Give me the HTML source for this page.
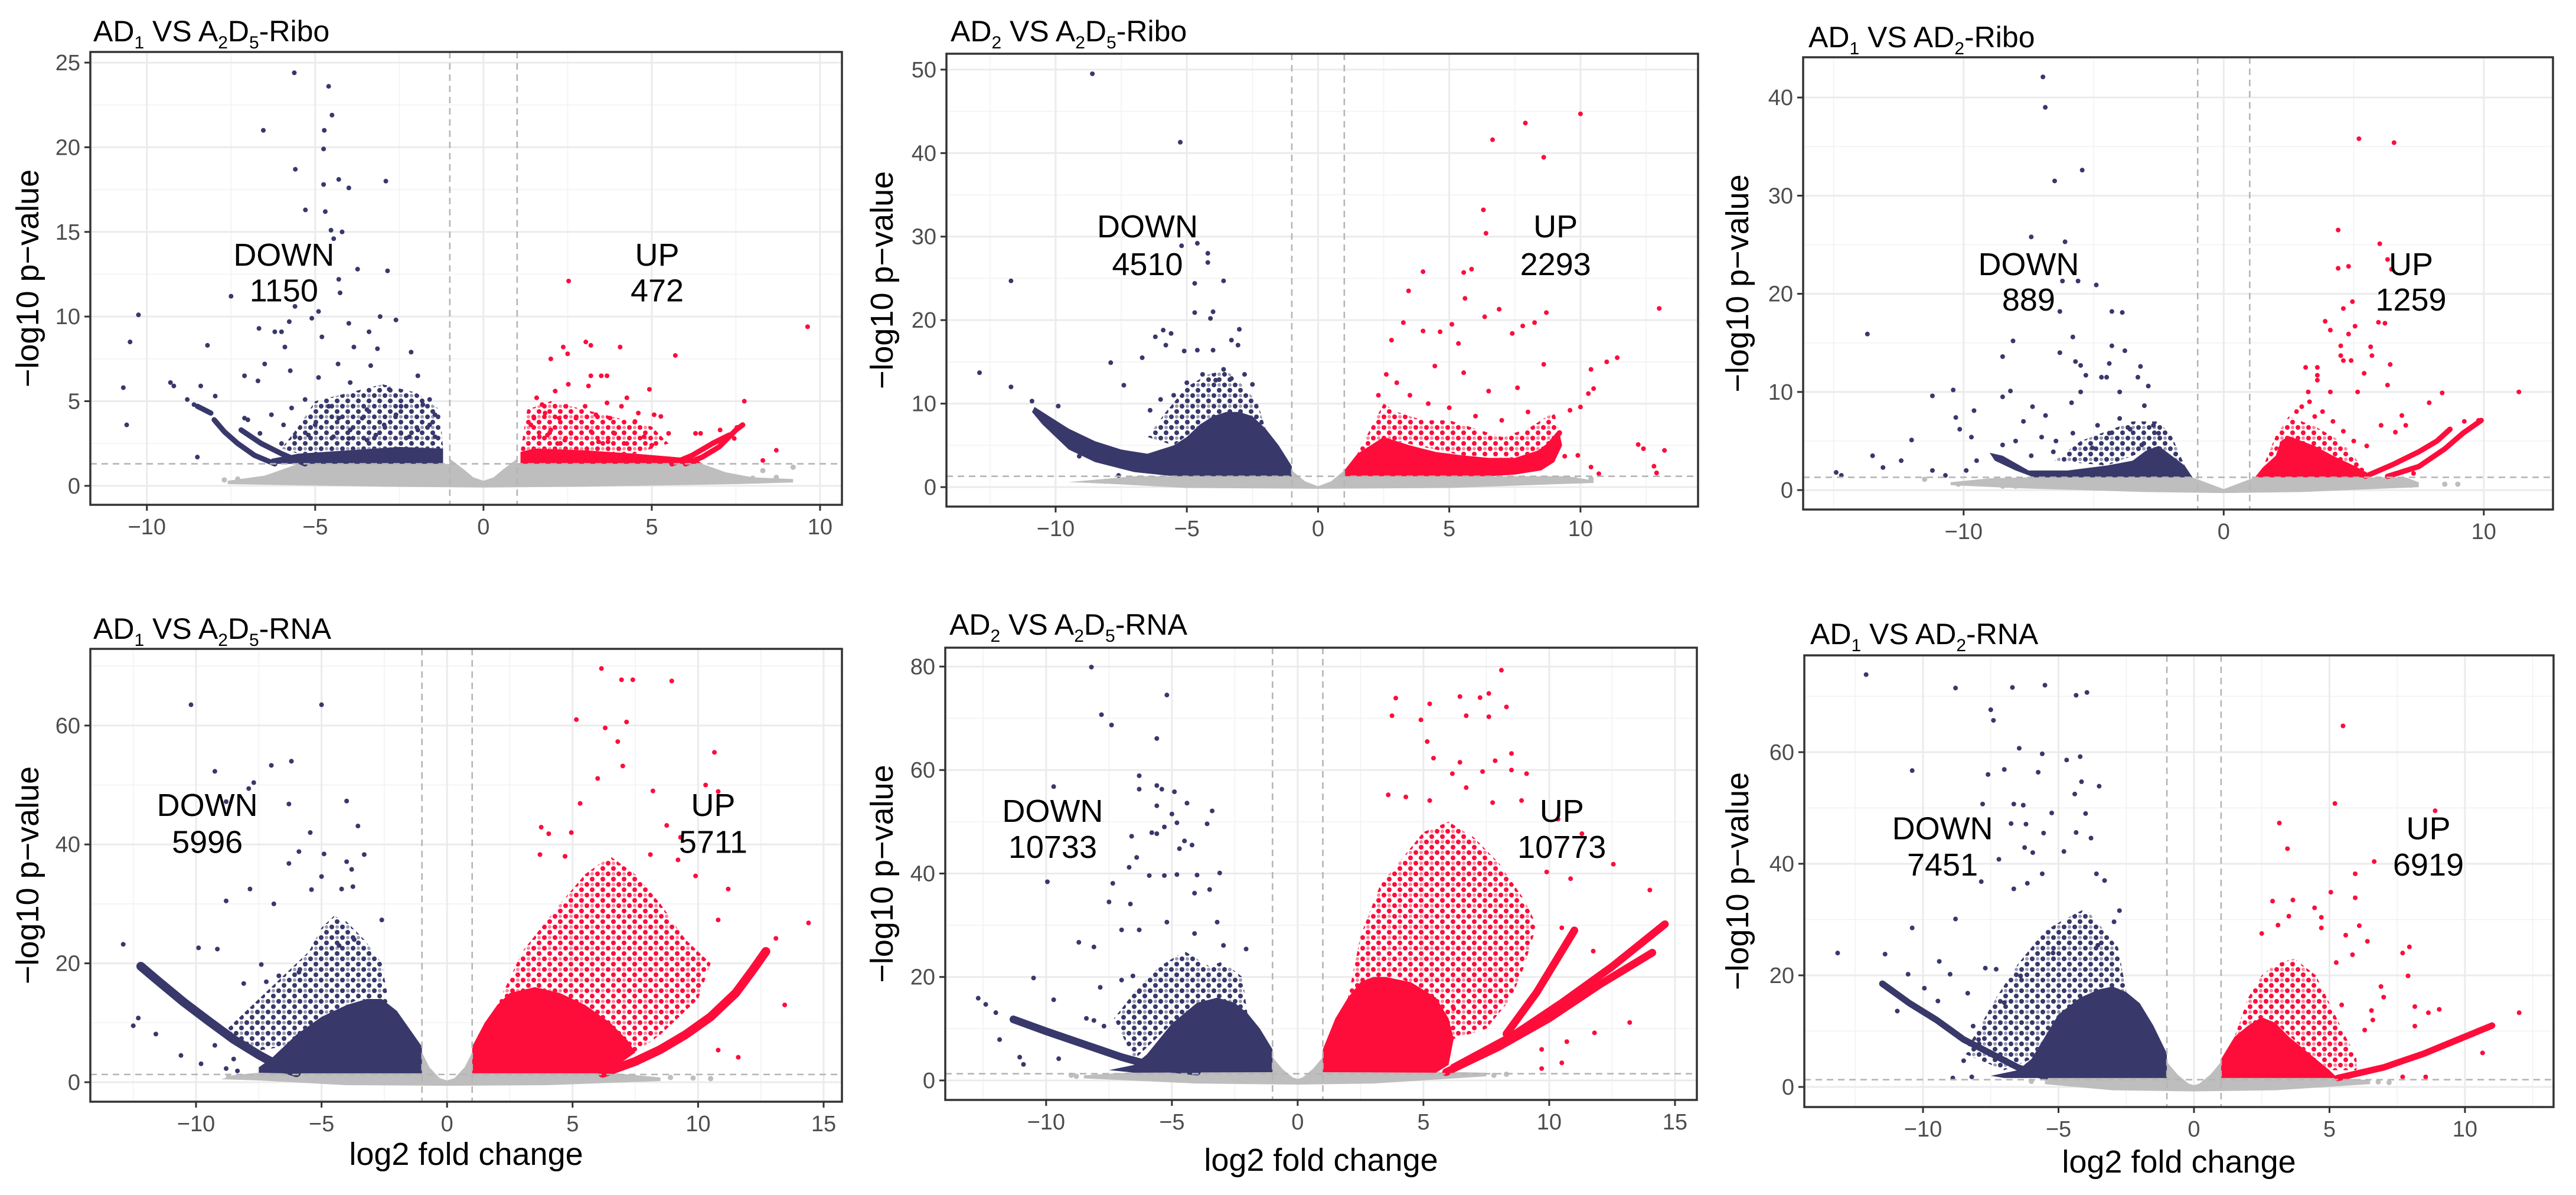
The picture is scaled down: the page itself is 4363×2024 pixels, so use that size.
<!DOCTYPE html>
<html><head><meta charset="utf-8"><title>Volcano plots</title>
<style>
html,body{margin:0;padding:0;background:#fff;}
svg{display:block;}
text{font-family:"Liberation Sans",Arial,sans-serif;}
</style></head>
<body>
<svg id="fig" width="4363" height="2024" viewBox="0 0 4363 2024" xmlns="http://www.w3.org/2000/svg">
<defs>
<pattern id="navyDots" width="18" height="18" patternUnits="userSpaceOnUse">
<circle cx="4" cy="4" r="4" fill="#38386b"/><circle cx="13" cy="13" r="4" fill="#38386b"/><circle cx="13" cy="4" r="3" fill="#38386b" fill-opacity="0.5"/>
</pattern>
<pattern id="redDots" width="18" height="18" patternUnits="userSpaceOnUse">
<circle cx="4" cy="4" r="4" fill="#fe0d3b"/><circle cx="13" cy="13" r="4" fill="#fe0d3b"/><circle cx="13" cy="4" r="3" fill="#fe0d3b" fill-opacity="0.5"/>
</pattern>
</defs>
<rect x="0" y="0" width="4363" height="2024" fill="#fff"/>
</svg>
<script>
// ---------------- data ----------------
const downCounts = [1150, 4510, 889, 5996, 10733, 7451];
const upCounts = [472, 2293, 1259, 5711, 10773, 6919];
const downLabelPos = [[-5.93,13.0,10.9],[-6.5,29.9,25.4],[-7.5,21.9,18.3],[-9.55,44.8,38.6],[-9.74,50.0,43.0],[-9.28,44.4,37.9]];
const upLabelPos = [[5.16,13.0,10.9],[9.05,29.9,25.4],[7.2,21.9,18.3],[10.6,44.8,38.6],[10.5,50.0,43.0],[8.65,44.4,37.9]];
const xTicksP = [[-10,-5,0,5,10],[-10,-5,0,5,10],[-10,0,10],[-10,-5,0,5,10,15],[-10,-5,0,5,10,15],[-10,-5,0,5,10]];
const yTicksP = [[0,5,10,15,20,25],[0,10,20,30,40,50],[0,10,20,30,40],[0,20,40,60],[0,20,40,60,80],[0,20,40,60]];
const pThreshold = 1.301;
const fcThreshold = 1;

// Panel 1
const p1Gray = [[-7.6,0.3],[-6.5,0.6],[-5.5,1.3],[-1,1.3],[-1,1.6],[-0.6,1.0],[-0.3,0.5],[0,0.3],[0.3,0.5],[0.6,1.0],[1,1.6],[1,1.3],[6.5,1.3],[7.2,0.8],[8,0.5],[9.2,0.4],[9.2,0.2],[7.5,0.1],[3,-0.05],[0,-0.1],[-3,-0.05],[-7.6,0.1]];
const p1GrayPts = [[-7.7,0.35],[-7.3,0.4],[-6.8,0.35],[-6.5,0.3],[-6.2,0.3],[-5.8,0.3],[-5.5,0.35],[7.0,0.3],[7.5,0.3],[8.0,0.45],[8.7,0.5],[9.2,1.1],[8.3,0.9]];
const p1DownBand = [[-6.3,1.3],[-1.2,1.3],[-1.2,2.2],[-2.5,2.3],[-4,2.1],[-5.5,1.9],[-6.3,1.6]];
const p1UpBand = [[1.1,1.3],[6.5,1.3],[6.3,1.6],[4.5,1.9],[3,2.1],[1.5,2.2],[1.1,2.0]];
const p1DownCloud = [[-1.2,2.2],[-1.3,4.5],[-2,5.5],[-3,6],[-4,5.5],[-5,5],[-5.5,3.5],[-6,2.2],[-5.5,1.9],[-4,2.1],[-2.5,2.3]];
const p1UpCloud = [[1.1,2.0],[1.3,4.5],[2,5],[3,4.5],[4,4],[5,3.5],[5.5,2.5],[4.5,1.9],[3,2.1],[1.5,2.2]];
const p1DownArms = [[[-6.2,1.3],[-6.8,1.8],[-7.3,2.5],[-7.7,3.2],[-8.0,3.9]],[[-5.3,1.3],[-6.0,1.9],[-6.6,2.5],[-7.2,3.3]],[[-8.5,4.7],[-8.1,4.3]]];
const p1UpArms = [[[6.0,1.3],[6.5,1.7],[7.0,2.3],[7.5,3.3],[7.7,3.6]],[[5.6,1.3],[6.2,1.8],[6.8,2.5],[7.3,3.0]]];
const p1DownPts = [[-5.62,24.4],[-4.6,23.6],[-4.5,21.9],[-6.54,21.0],[-4.73,21],[-4.75,19.9],[-5.59,18.7],[-4.3,18.1],[-2.9,18.0],[-4.0,17.6],[-4.75,17.8],[-5.29,16.3],[-4.7,16.2],[-4.53,15.1],[-4.2,15.0],[-4.45,14.6],[-3.74,12.8],[-2.85,12.7],[-4.3,12.2],[-4.26,11.4],[-7.5,11.2],[-5.6,10.6],[-4.9,10.3],[-5.1,9.9],[-10.25,10.1],[-3.07,10.0],[-2.6,9.8],[-4.0,9.6],[-5.77,9.7],[-6.67,9.3],[-6.2,9.1],[-6.0,9.1],[-3.4,9.1],[-4.8,8.8],[-10.5,8.5],[-8.2,8.3],[-5.9,8.2],[-3.15,8.1],[-2.15,7.9],[-3.85,8.2],[-6.5,7.2],[-5.74,6.8],[-3.35,7.1],[-4.32,7.2],[-7.1,6.5],[-9.3,6.1],[-6.7,6.2],[-10.7,5.8],[-8.4,5.9],[-4.9,6.4],[-1.95,6.5],[-3.96,6.1],[-2.8,5.7],[-10.6,3.6],[-8.5,1.7],[-8.8,5.1],[-7.97,5.3],[-5.3,5.1],[-1.6,5.1],[-5.7,4.6],[-4.6,4.7],[-3.46,4.5],[-2.45,4.7],[-6.3,4.2],[-4.3,4.0],[-1.44,4.2],[-7.1,4.0],[-5.94,3.6],[-5.0,3.6],[-3.96,3.3],[-2.95,3.6],[-1.95,3.3],[-6.64,3.1],[-5.6,2.9],[-4.46,2.9],[-3.46,2.7],[-2.45,3.1],[-1.44,2.9],[-9.2,5.9],[-8.6,4.8],[-7.0,3.9],[-5.2,3.0],[-3.2,3.0],[-2.2,2.9],[-1.6,3.6],[-4.0,2.8],[-6.0,2.5],[-3.6,4.0],[-2.6,4.2],[-1.8,4.8]];
const p1UpPts = [[2.53,12.1],[9.63,9.4],[3.04,8.5],[2.37,8.2],[3.19,8.3],[4.06,8.2],[2.5,7.8],[2.0,7.5],[5.7,7.7],[3.19,6.5],[3.67,6.5],[3.5,6.5],[2.52,6.0],[4.93,5.7],[2.13,5.6],[3.12,5.9],[4.26,5.2],[7.75,5.0],[1.74,4.8],[1.58,5.2],[2.45,4.7],[3.02,4.7],[3.67,4.9],[4.1,4.7],[1.83,4.3],[4.6,4.3],[5.07,4.2],[5.27,4.1],[1.5,4.0],[2.25,4.0],[2.75,4.0],[3.34,4.2],[3.76,4.0],[4.5,3.8],[5.5,3.1],[1.41,3.6],[2.0,3.3],[2.6,3.1],[3.2,3.2],[3.9,3.1],[4.77,2.9],[6.3,3.1],[6.45,3.1],[7.03,3.3],[7.45,2.8],[7.53,3.45],[8.7,2.1],[8.3,1.5],[1.66,2.9],[2.42,2.7],[3.42,2.6],[4.26,2.5],[1.9,3.0],[2.2,2.5],[3.7,2.6],[5.0,2.4]];

// Panel 2
const p2Gray = [[-9.5,0.6],[-7,1.3],[-1.1,1.3],[-1.0,2.0],[-0.5,0.7],[0,0.1],[0.5,0.7],[1.0,2.0],[1.1,1.3],[9.5,1.3],[10.5,0.8],[10.5,0.5],[5,-0.1],[0,-0.2],[-5,-0.1],[-8,0.4]];
const p2GrayPts = [[-8.1,0.7],[-6.5,0.5],[-5.6,0.4],[-5.2,0.5],[9.8,0.9],[10.4,1.0]];
const p2DownBand = [[-10.8,9.6],[-9.5,7],[-8.5,5.5],[-7.5,4.5],[-6.5,4],[-5.5,5.0],[-5,6],[-4.5,7.5],[-4,8.5],[-3.5,9],[-3,9],[-2.5,8.5],[-2,7],[-1.5,5],[-1.0,2.5],[-1.0,1.3],[-5.5,1.3],[-7,1.8],[-8.5,3],[-9.5,4.5],[-10.5,7.5],[-10.9,9]];
const p2UpBand = [[1.0,1.3],[1.0,2.0],[1.5,4.0],[2,5],[2.5,6],[3,5.5],[3.5,5],[4.5,4.2],[5.5,3.8],[6.5,3.5],[7.5,3.5],[8.5,4.5],[9.2,6.5],[9.3,5],[9,3],[8.5,2],[7.5,1.5],[6.5,1.3]];
const p2DownCloud = [[-2,7],[-2.3,10],[-2.8,12],[-3.5,14],[-4.2,13.5],[-5,12],[-5.8,9],[-6.5,6],[-5.5,5],[-4,8.5],[-3,9]];
const p2UpCloud = [[1.5,4],[2,7],[2.5,10],[3,9],[4,8],[5,8],[6,7],[7,6],[8,7],[9,9],[9.2,6.5],[8.5,4.5],[7.5,3.5],[5.5,3.8],[3,5.5],[2,5]];
const p2DownArms = [];
const p2UpArms = [[[8.2,3.5],[8.8,5],[9.2,6.5]]];
const p2DownPts = [[-8.6,49.5],[-5.25,41.3],[-4.6,29.2],[-5.2,28.9],[-4.2,28.0],[-4.2,26.9],[-11.7,24.7],[-3.6,24.7],[-4.7,24.4],[-4.7,20.9],[-4.0,21.0],[-4.1,20.2],[-5.9,18.8],[-5.6,18.4],[-3.0,18.9],[-3.05,17.0],[-3.3,17.6],[-6.2,18.0],[-5.8,17.0],[-12.9,13.7],[-11.7,12.0],[-7.9,14.9],[-6.7,15.5],[-5.1,16.3],[-4.6,16.4],[-4.0,16.4],[-7.4,12.2],[-10.9,10.3],[-9.9,9.7],[-9.1,3.7],[-7.6,1.4],[-6.4,9.2],[-5.5,11.0],[-3.6,14.1],[-2.5,12.3],[-4.4,13.5],[-3.9,12.8],[-5.0,12.5],[-6.0,10.5],[-2.8,13.5],[-3.3,13.0]];
const p2UpPts = [[10.0,44.7],[7.9,43.6],[6.65,41.6],[8.6,39.5],[6.3,33.2],[6.4,30.4],[4.0,25.8],[5.55,25.7],[5.85,26.1],[3.45,23.5],[5.6,22.6],[6.9,21.3],[13.0,21.4],[8.7,20.9],[6.35,20.4],[8.25,19.7],[7.8,19.3],[3.25,19.7],[5.1,19.5],[7.4,18.4],[4.0,18.7],[4.65,18.6],[2.8,17.6],[5.35,17.2],[11.4,15.5],[11.0,15.0],[10.4,14.1],[8.6,14.7],[4.45,14.5],[5.55,13.7],[10.5,11.8],[10.3,11.2],[7.6,11.9],[10.0,9.6],[9.6,9.2],[12.2,5.1],[12.4,4.6],[13.2,4.4],[12.9,1.7],[12.8,2.5],[10.7,1.6],[10.4,2.4],[9.4,3.7],[9.9,3.8],[2.6,13.5],[3.0,12.5],[3.5,11.0],[4.2,10.0],[5.0,9.5],[6.0,8.5],[7.0,8.0],[8.0,9.0],[2.3,11.0],[6.5,11.5]];

// Panel 3
const p3Gray = [[-10.5,0.8],[-9,1.2],[-7.5,1.3],[-1.2,1.3],[-0.5,0.6],[0,0.1],[0.5,0.6],[1.2,1.3],[7,1.3],[7.5,0.8],[7.5,0.3],[3,-0.2],[0,-0.3],[-3,-0.2],[-8,0.2],[-10.5,0.5]];
const p3GrayPts = [[-10.2,0.6],[-9.5,0.7],[-8.5,0.4],[-8,0.4],[7.2,0.5],[8.5,0.6],[9.0,0.6],[-11.5,1.1]];
const p3DownBand = [[-1.2,1.3],[-1.5,2.5],[-2.0,3.5],[-2.5,4.5],[-3,4],[-3.5,3],[-4.5,2.5],[-6,2],[-7.5,2],[-8.5,3.5],[-9,3.8],[-8.8,3],[-8,2],[-7.3,1.3]];
const p3UpBand = [[1.2,1.3],[1.5,2.3],[2,3.5],[2.2,5],[2.5,5.5],[3,5],[3.5,4.5],[4.2,3.5],[5,2.5],[5.5,1.8],[5.6,1.3]];
const p3DownCloud = [[-1.5,2.5],[-2,5.5],[-2.5,7],[-3.5,7],[-4.5,6],[-5.5,5],[-6.5,3],[-4.5,2.5],[-3,4]];
const p3UpCloud = [[1.5,2.3],[2,5.5],[2.5,7.5],[3,7],[3.5,6.5],[4.5,5],[5,3.5],[5.5,1.8],[4.2,3.5],[2.5,5.5]];
const p3DownArms = [];
const p3UpArms = [[[5.45,1.4],[6.5,2.6],[7.5,3.9],[8.2,5.0],[8.7,6.2]],[[6.3,1.4],[7.5,2.4],[8.5,4.2],[9.2,5.8],[9.9,7.1]]];
const p3DownPts = [[-6.95,42.1],[-6.86,39.0],[-5.44,32.6],[-6.5,31.5],[-7.4,25.8],[-6.1,25.3],[-4.9,20.9],[-5.6,21.3],[-6.2,21.3],[-6.3,18.2],[-4.3,18.2],[-3.9,18.1],[-13.7,15.9],[-8.1,15.2],[-5.8,15.6],[-4.3,14.7],[-3.8,14.2],[-8.5,13.6],[-6.3,14.0],[-5.7,13.1],[-5.5,12.7],[-4.4,12.9],[-3.2,12.6],[-5.3,11.7],[-4.7,11.5],[-4.5,11.5],[-3.3,11.5],[-2.9,10.6],[-10.4,10.2],[-8.2,10.1],[-11.2,9.6],[-8.5,9.5],[-5.5,10.0],[-4.0,10.0],[-9.6,8.1],[-7.35,8.5],[-5.85,8.9],[-3.05,8.6],[-10.3,7.4],[-7.7,7.0],[-6.85,7.6],[-13.5,3.5],[-12.4,3.0],[-13.1,2.3],[-12.0,5.1],[-14.9,1.8],[-14.7,1.5],[-11.2,2.0],[-10.7,1.5],[-9.9,2.0],[-9.5,3.0],[-10.15,6.2],[-9.7,5.4],[-8.5,4.6],[-8.0,5.0],[-7.0,5.4],[-6.45,5.0],[-5.8,5.8],[-4.85,6.6],[-4.4,5.8],[-4.0,7.3],[-3.6,6.2],[-2.7,6.6],[-2.5,5.8],[-3.15,4.6],[-5.05,4.3],[-6.55,3.9],[-7.4,3.5]];
const p3UpPts = [[5.2,35.8],[6.55,35.4],[4.4,26.5],[6.0,25.1],[6.3,23.5],[4.4,22.6],[4.8,22.8],[6.45,22.5],[4.95,19.2],[4.6,18.5],[3.9,17.2],[5.95,17.1],[6.2,17.0],[5.05,16.7],[4.1,16.3],[4.8,15.9],[4.5,14.7],[5.65,14.6],[4.5,13.7],[5.7,13.7],[4.6,13.2],[4.9,13.2],[6.4,12.8],[3.15,12.5],[3.6,12.5],[5.4,11.9],[3.6,11.7],[6.3,10.7],[11.35,10.0],[3.25,10.0],[4.1,10.0],[5.15,10.0],[8.4,9.9],[7.9,8.9],[6.85,7.6],[7.0,6.6],[6.6,5.9],[6.05,6.6],[9.25,7.0],[9.8,7.1],[7.3,1.7],[3.6,11.2],[3.0,8.5],[3.3,9.0],[3.8,8.0],[4.2,7.0],[2.8,8.0],[3.5,7.5],[4.6,6.0],[5.0,5.0],[5.5,4.5]];

// Panel 4
const p4Gray = [[-9,0.5],[-8.5,1.2],[-7.5,1.6],[-1.0,1.6],[-1.0,5],[-0.7,2.5],[-0.3,0.7],[0,0.3],[0.3,0.7],[0.7,2.5],[1.0,5],[1.0,1.6],[6.5,1.6],[7.5,1.2],[8.5,0.8],[8.5,0.2],[4,-0.5],[0,-0.6],[-4,-0.5],[-7.5,0.3]];
const p4GrayPts = [[-8.7,1.0],[-7.9,0.9],[8.9,0.8],[9.8,0.7],[10.5,0.6]];
const p4DownBand = [[-1.0,1.5],[-1.0,6],[-1.5,9],[-2,12],[-2.6,14],[-3.2,14],[-4,13],[-5,11],[-6,8],[-6.5,6],[-7,4],[-7.5,2.5],[-7.5,1.6],[-6.5,1.5]];
const p4DownCloud = [[-2.3,13],[-2.6,20],[-3.3,24],[-4,27],[-4.5,28],[-5,26],[-5.5,22],[-6.5,18],[-7.5,14],[-8.5,10],[-9,8],[-8,5],[-6.5,6],[-5,11],[-3.5,14]];
const p4UpBand = [[1.0,1.5],[1.0,6],[1.5,10],[2,13],[2.5,15],[3.5,16],[4.5,15],[5.5,13],[6.5,10],[7.2,7],[7.5,5],[6.5,2],[6,1.5]];
const p4UpCloud = [[2,13],[3,22],[4.5,30],[5.5,35],[6.5,38],[7.5,35],[8.5,30],[9.5,24],[10.5,20],[10,14],[8.5,8],[7.5,5],[6.5,10],[4.5,15],[3.5,16]];
const p4DownArms = [[[-12.2,19.5],[-11.5,17],[-10.5,13.5],[-9.5,10.3],[-8.5,7.2],[-7.5,4.6],[-6.5,2.3],[-6.0,1.6]]];
const p4UpArms = [[[6.2,1.5],[7.5,3.5],[8.5,5.5],[9.5,8],[10.5,11],[11.5,15],[12.2,19],[12.7,22]]];
const p4DownPts = [[-10.2,63.5],[-5.0,63.5],[-6.2,54.0],[-9.25,52.3],[-7.0,53.3],[-7.7,50.4],[-7.9,49.4],[-6.3,46.8],[-4.0,47.3],[-8.8,47.2],[-3.55,43.1],[-5.45,42.0],[-3.3,38.3],[-5.9,38.8],[-4.9,38.4],[-6.3,36.8],[-4.0,37.1],[-3.8,35.8],[-7.85,32.5],[-8.8,30.5],[-5.4,32.4],[-4.2,32.5],[-5.0,34.6],[-3.75,32.9],[-6.9,30.0],[-2.6,27.3],[-12.9,23.2],[-9.9,22.6],[-9.15,22.4],[-7.4,19.8],[-12.5,9.5],[-12.3,10.8],[-11.6,8.1],[-6.7,17.9],[-5.9,18.5],[-4.3,23.0],[-3.7,24.0],[-8.1,16.6],[-7.2,16.9],[-10.6,4.5],[-9.8,3.1],[-8.8,2.3],[-8.35,1.9],[-9.25,6.2],[-8.5,3.9]];
const p4UpPts = [[6.15,69.6],[6.95,67.7],[7.4,67.7],[8.95,67.5],[5.15,61.0],[6.3,59.6],[7.15,60.6],[6.8,57.3],[10.65,55.5],[7.0,53.2],[6.0,51.1],[10.3,50.0],[8.2,49.0],[5.3,46.9],[10.8,48.9],[3.75,42.9],[4.95,42.0],[4.05,41.8],[8.75,43.2],[9.3,41.2],[14.4,26.8],[13.45,13.0],[11.6,4.2],[10.8,5.4],[13.1,24.2],[4.7,38.0],[3.7,38.3],[8.1,38.3],[9.2,37.4],[9.9,34.7],[11.2,32.5],[10.8,27.3]];

// Panel 5
const p5Gray = [[-8.5,0.4],[-8.5,1.0],[-6.5,1.6],[-1.0,1.6],[-1.0,4.5],[-0.6,2.2],[-0.2,0.6],[0,0.3],[0.2,0.6],[0.6,2.2],[1.0,4.5],[1.0,1.6],[6.5,1.6],[7.5,1.5],[7.5,0.8],[3,-0.6],[0,-0.8],[-4,-0.6]];
const p5GrayPts = [[-9.0,1.0],[-8.8,0.8],[7.8,1.0],[8.3,1.2]];
const p5DownBand = [[-1.0,1.6],[-1.0,6],[-1.5,10],[-2,13],[-2.5,15],[-3.2,16],[-4,15],[-4.5,13],[-5,11],[-5.5,8],[-6,5],[-6.5,3],[-7.5,2],[-6.5,1.5]];
const p5DownCloud = [[-2.0,13],[-2.2,20],[-3,23],[-3.5,22],[-4.5,25],[-5.5,22],[-6.5,17],[-7.3,12],[-6.5,4],[-5,11],[-3.5,16]];
const p5UpBand = [[1.0,1.6],[1.0,6],[1.5,12],[2,16],[2.5,19],[3,20],[3.5,20],[4.5,19],[5.5,16],[6,12],[6.2,8],[6,3],[5.5,1.5]];
const p5UpCloud = [[2,16],[2.5,28],[3.3,38],[4,42],[5,48],[6,50],[7,47],[8,42],[9,35],[9.5,30],[9,22],[8.5,16],[7.5,10],[6.2,8],[5.5,16],[4,20],[3,20]];
const p5DownArms = [[[-11.3,11.8],[-10,9.5],[-8.5,7],[-7,4.5],[-5.5,2.5],[-4,1.7]]];
const p5UpArms = [[[5.9,1.6],[8,6.5],[10,12],[12,18.5],[14.1,24.7]],[[6.2,2.5],[8.5,8.5],[10.5,15],[12.5,22],[14.6,30.2]],[[8.3,9],[9.5,17],[11,29]]];
const p5DownPts = [[-8.2,79.9],[-5.2,74.5],[-7.8,70.7],[-7.4,68.7],[-5.6,66.1],[-6.3,58.9],[-6.3,56.3],[-9.7,56.8],[-5.6,57.0],[-5.4,56.3],[-4.9,55.8],[-5.6,53.1],[-4.4,53.6],[-3.4,52.1],[-5.0,51.5],[-4.8,49.8],[-5.3,49.0],[-3.6,49.6],[-5.8,47.9],[-5.6,47.7],[-6.6,47.2],[-4.5,46.3],[-4.2,45.5],[-6.4,43.1],[-4.7,44.8],[-6.7,41.2],[-9.95,38.4],[-7.35,38.1],[-5.9,39.6],[-5.3,39.6],[-4.8,39.8],[-4.0,39.7],[-3.1,40.1],[-4.1,36.2],[-3.5,36.9],[-6.65,34.1],[-7.5,34.5],[-5.2,30.6],[-8.7,26.7],[-8.1,25.8],[-10.5,19.8],[-9.7,15.6],[-12.0,13.1],[-12.7,15.9],[-12.4,14.7],[-11.85,7.9],[-11.05,4.5],[-10.9,3.1],[-9.5,4.2],[-8.4,12.0],[-8.1,11.6],[-7.85,18.0],[-7.0,19.4],[-6.55,20.2],[-6.3,17.2],[-7.0,29.1],[-6.3,29.1],[-4.1,28.4],[-3.2,30.6],[-2.95,26.1],[-2.05,25.4],[-7.7,10.5]];
const p5UpPts = [[8.1,79.3],[7.6,74.8],[6.45,74.2],[7.25,74.0],[3.9,73.9],[8.3,72.2],[5.25,72.8],[3.75,70.5],[6.7,70.5],[7.6,70.3],[4.9,69.7],[5.15,65.5],[5.4,62.3],[8.5,63.2],[6.45,61.5],[7.85,61.8],[8.5,60.0],[9.1,59.3],[6.15,59.3],[7.35,59.7],[6.7,56.6],[3.6,55.2],[4.3,54.8],[7.75,53.7],[5.25,54.1],[8.9,54.1],[12.55,41.8],[10.85,39.0],[14.0,36.8],[9.9,40.3],[10.5,29.5],[11.75,25.0],[13.2,11.2],[11.8,9.2],[10.7,7.5],[9.7,6.0],[10.5,3.4],[9.7,2.3],[6.2,13.9],[10.35,50.5],[11.3,47.7]];

// Panel 6
const p6Gray = [[-5.5,0.5],[-5.5,1.6],[-1.0,1.6],[-1.0,4.5],[-0.6,2.2],[-0.2,0.6],[0,0.3],[0.2,0.6],[0.6,2.2],[1.0,4.5],[1.0,1.6],[5.5,1.6],[6.5,1.2],[6.5,0.5],[3,-0.6],[0,-0.8],[-3,-0.6]];
const p6GrayPts = [[6.8,0.9],[7.2,0.8],[-6.0,1.0]];
const p6DownBand = [[-1,1.6],[-1,6],[-1.5,11],[-2,15],[-2.5,17],[-3.0,18],[-3.5,17.5],[-4.2,16],[-5,13],[-5.5,9],[-6,5],[-6.5,3],[-7.5,2],[-7,1.6]];
const p6DownCloud = [[-2.5,17],[-2.8,25],[-3.3,28],[-4,32],[-4.8,30],[-5.5,28],[-6.5,22],[-7.3,16],[-8,10],[-8.5,6],[-7,3],[-6,5],[-5,13],[-4,16.5]];
const p6UpBand = [[1.0,1.6],[1.0,5],[1.5,9],[2,11],[2.5,12.5],[3,11.5],[3.5,9],[4,7],[4.5,5],[5,3],[5.3,1.6]];
const p6UpCloud = [[1.5,9],[2,16],[2.5,20],[3,22],[3.7,23],[4.5,20],[5,15],[5.5,10],[6,5],[6,3],[5,3],[4,7],[3,11.5],[2.5,12.5]];
const p6DownArms = [[[-11.5,18.5],[-10.5,15],[-9.5,12],[-8.5,8.5],[-7.5,6],[-6.5,3.5],[-5.5,1.8]]];
const p6UpArms = [[[5.3,1.6],[7,3.5],[8.5,6],[9.5,8],[10.5,10],[11,11]]];
const p6DownPts = [[-12.1,73.9],[-8.8,71.5],[-6.7,71.6],[-5.5,72.0],[-4.35,70.2],[-3.95,70.7],[-7.5,67.6],[-7.4,65.7],[-6.45,60.7],[-5.6,59.7],[-4.7,58.6],[-4.2,59.2],[-10.4,56.7],[-7.0,56.9],[-7.6,56.0],[-5.75,56.4],[-4.15,54.7],[-3.5,53.9],[-4.4,52.5],[-7.8,50.7],[-6.65,50.7],[-6.3,50.5],[-5.25,49.1],[-4.0,49.0],[-6.75,47.2],[-6.2,47.1],[-5.55,45.5],[-4.35,45.6],[-3.8,44.6],[-4.8,42.2],[-6.25,42.9],[-5.95,42.0],[-7.2,40.8],[-7.85,36.8],[-6.65,35.5],[-6.15,36.5],[-5.6,38.2],[-3.6,38.2],[-3.3,37.0],[-8.8,30.1],[-10.4,28.5],[-13.15,24.0],[-11.4,23.8],[-9.4,22.5],[-10.55,20.2],[-9.0,20.2],[-9.95,17.7],[-8.35,16.8],[-10.95,13.6],[-9.45,15.4],[-8.15,10.9],[-7.7,21.3],[-7.3,21.1],[-8.5,4.7],[-8.9,1.6],[-8.2,1.8],[-7.95,8.5],[-7.0,15.1],[-6.4,19.9],[-5.2,24.0],[-3.55,25.4],[-2.95,29.6],[-2.75,31.6]];
const p6UpPts = [[5.5,64.7],[5.2,50.8],[8.9,49.5],[3.15,47.3],[3.45,42.7],[6.65,40.4],[5.95,38.2],[5.05,34.9],[5.95,33.9],[2.9,33.3],[3.65,33.5],[4.45,32.1],[4.7,30.4],[3.5,30.6],[6.1,28.9],[3.1,29.0],[2.5,27.5],[4.7,28.5],[5.6,27.2],[6.4,26.1],[7.95,25.1],[7.7,24.0],[5.85,23.7],[7.9,19.9],[5.25,22.3],[6.9,18.0],[7.0,16.1],[8.15,14.4],[9.05,13.9],[8.65,13.3],[8.15,10.9],[6.55,13.7],[5.45,14.7],[12.0,13.3],[10.65,6.1],[8.55,1.8],[7.7,1.8],[6.6,12.0],[6.3,10.2]];

// ---------------- layout (pixel calibration) ----------------
const panels = [
 {box:[153,1426,88,855], xd:[-11.68,10.65], yd:[-1.12,25.63], title:[["AD",""],["1","s"],[" VS A",""],["2","s"],["D",""],["5","s"],["-Ribo",""]], tx:158, ty:70, yt:46, xt:null,
  gray:p1Gray, grayPts:p1GrayPts, down:p1DownBand, up:p1UpBand, downCloud:p1DownCloud, upCloud:p1UpCloud, downArms:p1DownArms, upArms:p1UpArms, downPts:p1DownPts, upPts:p1UpPts, aw:9},
 {box:[1603,2876,91,858], xd:[-14.16,14.48], yd:[-2.33,51.9], title:[["AD",""],["2","s"],[" VS A",""],["2","s"],["D",""],["5","s"],["-Ribo",""]], tx:1610, ty:70, yt:1493, xt:null,
  gray:p2Gray, grayPts:p2GrayPts, down:p2DownBand, up:p2UpBand, downCloud:p2DownCloud, upCloud:p2UpCloud, downArms:p2DownArms, upArms:p2UpArms, downPts:p2DownPts, upPts:p2UpPts, aw:9},
 {box:[3054,4324,97,863], xd:[-16.17,12.66], yd:[-1.98,44.1], title:[["AD",""],["1","s"],[" VS AD",""],["2","s"],["-Ribo",""]], tx:3063, ty:80, yt:2942, xt:null,
  gray:p3Gray, grayPts:p3GrayPts, down:p3DownBand, up:p3UpBand, downCloud:p3DownCloud, upCloud:p3UpCloud, downArms:p3DownArms, upArms:p3UpArms, downPts:p3DownPts, upPts:p3UpPts, aw:9},
 {box:[153,1426,1099,1866], xd:[-14.21,15.73], yd:[-3.28,72.9], title:[["AD",""],["1","s"],[" VS A",""],["2","s"],["D",""],["5","s"],["-RNA",""]], tx:158, ty:1082, yt:46, xt:1973,
  gray:p4Gray, grayPts:p4GrayPts, down:p4DownBand, up:p4UpBand, downCloud:p4DownCloud, upCloud:p4UpCloud, downArms:p4DownArms, upArms:p4UpArms, downPts:p4DownPts, upPts:p4UpPts, aw:15},
 {box:[1601,2874,1097,1863], xd:[-14.01,15.87], yd:[-3.77,83.65], title:[["AD",""],["2","s"],[" VS A",""],["2","s"],["D",""],["5","s"],["-RNA",""]], tx:1608, ty:1075, yt:1493, xt:1983,
  gray:p5Gray, grayPts:p5GrayPts, down:p5DownBand, up:p5UpBand, downCloud:p5DownCloud, upCloud:p5UpCloud, downArms:p5DownArms, upArms:p5UpArms, downPts:p5DownPts, upPts:p5UpPts, aw:13},
 {box:[3056,4325,1110,1875], xd:[-14.38,13.27], yd:[-3.6,77.35], title:[["AD",""],["1","s"],[" VS AD",""],["2","s"],["-RNA",""]], tx:3066, ty:1091, yt:2942, xt:1986,
  gray:p6Gray, grayPts:p6GrayPts, down:p6DownBand, up:p6UpBand, downCloud:p6DownCloud, upCloud:p6UpCloud, downArms:p6DownArms, upArms:p6UpArms, downPts:p6DownPts, upPts:p6UpPts, aw:11}
];

const NAVY = "#38386b", RED = "#fe0d3b", GRAY = "#bebebe";
const NS = "http://www.w3.org/2000/svg";
const svg = document.getElementById("fig");
function mk(tag, attrs, parent){
  const e = document.createElementNS(NS, tag);
  for (const k in attrs) e.setAttribute(k, attrs[k]);
  (parent||svg).appendChild(e);
  return e;
}

panels.forEach((p, i) => {
  const [L,R,T,B] = p.box;
  const sx = v => L + (v - p.xd[0]) / (p.xd[1]-p.xd[0]) * (R-L);
  const sy = v => B - (v - p.yd[0]) / (p.yd[1]-p.yd[0]) * (B-T);
  const g = mk("g", {});
  
  
  const clipId = "clip" + i;
  const cp = mk("clipPath", {id: clipId}, g);
  mk("rect", {x:L, y:T, width:R-L, height:B-T}, cp);
  const plot = mk("g", {"clip-path": "url(#" + clipId + ")"}, g);
  
  

  const xt = xTicksP[i], yt = yTicksP[i];
  const xs = xt[1]-xt[0], ys = yt[1]-yt[0];
  for (let v = xt[0] - xs/2; v <= p.xd[1]; v += xs) if (v >= p.xd[0]) mk("line",{x1:sx(v),x2:sx(v),y1:T,y2:B,stroke:"#f2f2f2","stroke-width":1.6},plot);
  for (let v = yt[0] - ys/2; v <= p.yd[1]; v += ys) if (v >= p.yd[0]) mk("line",{x1:L,x2:R,y1:sy(v),y2:sy(v),stroke:"#f2f2f2","stroke-width":1.6},plot);
  for (let v = xt[0] - xs; v <= p.xd[1]; v += xs) if (v >= p.xd[0]) mk("line",{x1:sx(v),x2:sx(v),y1:T,y2:B,stroke:"#ebebeb","stroke-width":3},plot);
  yt.forEach(v => mk("line",{x1:L,x2:R,y1:sy(v),y2:sy(v),stroke:"#ebebeb","stroke-width":3},plot));

  const poly = (pts, fill, op, name) => {
    const e = mk("polygon", {points: pts.map(q => sx(q[0]) + "," + sy(q[1])).join(" "), fill: fill, "fill-opacity": op}, plot);
    
    
  };
  const line = (pts, col, w, name) => {
    const e = mk("polyline", {points: pts.map(q => sx(q[0]) + "," + sy(q[1])).join(" "), fill:"none", stroke:col, "stroke-width":w, "stroke-linecap":"round", "stroke-linejoin":"round"}, plot);
    
    
  };
  const dots = (pts, col, r, name) => {
    const gg = mk("g", {fill: col}, plot);
    
    
    pts.forEach(q => mk("circle", {cx: sx(q[0]), cy: sy(q[1]), r: r}, gg));
  };

  poly(p.gray, GRAY, 1, "nonsignificant-genes");
  dots(p.grayPts, GRAY, 4.5, "nonsignificant-points");
  if (p.downCloud) poly(p.downCloud, "url(#navyDots)", 1, "down-scatter-cloud");
  if (p.upCloud) poly(p.upCloud, "url(#redDots)", 1, "up-scatter-cloud");
  poly(p.down, NAVY, 1, "down-regulated-dense");
  poly(p.up, RED, 1, "up-regulated-dense");
  p.downArms.forEach(a => line(a, NAVY, p.aw, "down-arm"));
  p.upArms.forEach(a => line(a, RED, p.aw, "up-arm"));
  dots(p.downPts, NAVY, 4, "down-regulated-points");
  dots(p.upPts, RED, 4, "up-regulated-points");

  [-fcThreshold, fcThreshold].forEach(v => mk("line",{x1:sx(v),x2:sx(v),y1:T,y2:B,stroke:"#b5b5b5","stroke-width":2.6,"stroke-dasharray":"11 8"},plot));
  mk("line",{x1:L,x2:R,y1:sy(pThreshold),y2:sy(pThreshold),stroke:"#b5b5b5","stroke-width":2.6,"stroke-dasharray":"11 8"},plot);

  const dl = downLabelPos[i], ul = upLabelPos[i];
  const ann = (x, y, txt, name) => {
    const t = mk("text",{x:sx(x), y:sy(y), "text-anchor":"middle", "font-size":54, fill:"#000"}, g);
    t.textContent = txt;
    
    
  };
  ann(dl[0], dl[1], "DOWN", "down-label");
  ann(dl[0], dl[2], String(downCounts[i]), "down-count");
  ann(ul[0], ul[1], "UP", "up-label");
  ann(ul[0], ul[2], String(upCounts[i]), "up-count");

  const bd = mk("rect",{x:L,y:T,width:R-L,height:B-T,fill:"none",stroke:"#333","stroke-width":3.5},g);
  
  

  xt.forEach(v => {
    mk("line",{x1:sx(v),x2:sx(v),y1:B,y2:B+10,stroke:"#333","stroke-width":3},g);
    const t = mk("text",{x:sx(v), y:B+50, "text-anchor":"middle","font-size":38, fill:"#4d4d4d"}, g);
    t.textContent = v < 0 ? "\u2212" + Math.abs(v) : String(v);
    
    
  });
  yt.forEach(v => {
    mk("line",{x1:L-10,x2:L,y1:sy(v),y2:sy(v),stroke:"#333","stroke-width":3},g);
    const t = mk("text",{x:L-17, y:sy(v)+13, "text-anchor":"end","font-size":38, fill:"#4d4d4d"}, g);
    t.textContent = String(v);
    
    
  });

  const ya = mk("text",{x:0,y:0,"text-anchor":"middle","font-size":54,fill:"#000",transform:"translate(" + (p.yt+19) + "," + ((T+B)/2) + ") rotate(-90)"}, g);
  ya.textContent = "\u2212log10 p\u2212value";
  
  
  if (p.xt) {
    const xa = mk("text",{x:(L+R)/2, y:p.xt, "text-anchor":"middle","font-size":54, fill:"#000"}, g);
    xa.textContent = "log2 fold change";
    
    
  }

  const tt = mk("text",{x:p.tx, y:p.ty, "font-size":50, fill:"#000"}, g);
  
  
  let shifted = false;
  p.title.forEach(part => {
    const ts = mk("tspan", {}, tt);
    if (part[1] === "s") { ts.setAttribute("font-size", 30); ts.setAttribute("dy", 12); shifted = true; }
    else if (shifted) { ts.setAttribute("dy", -12); shifted = false; }
    ts.textContent = part[0];
  });
});
</script>
</body></html>
